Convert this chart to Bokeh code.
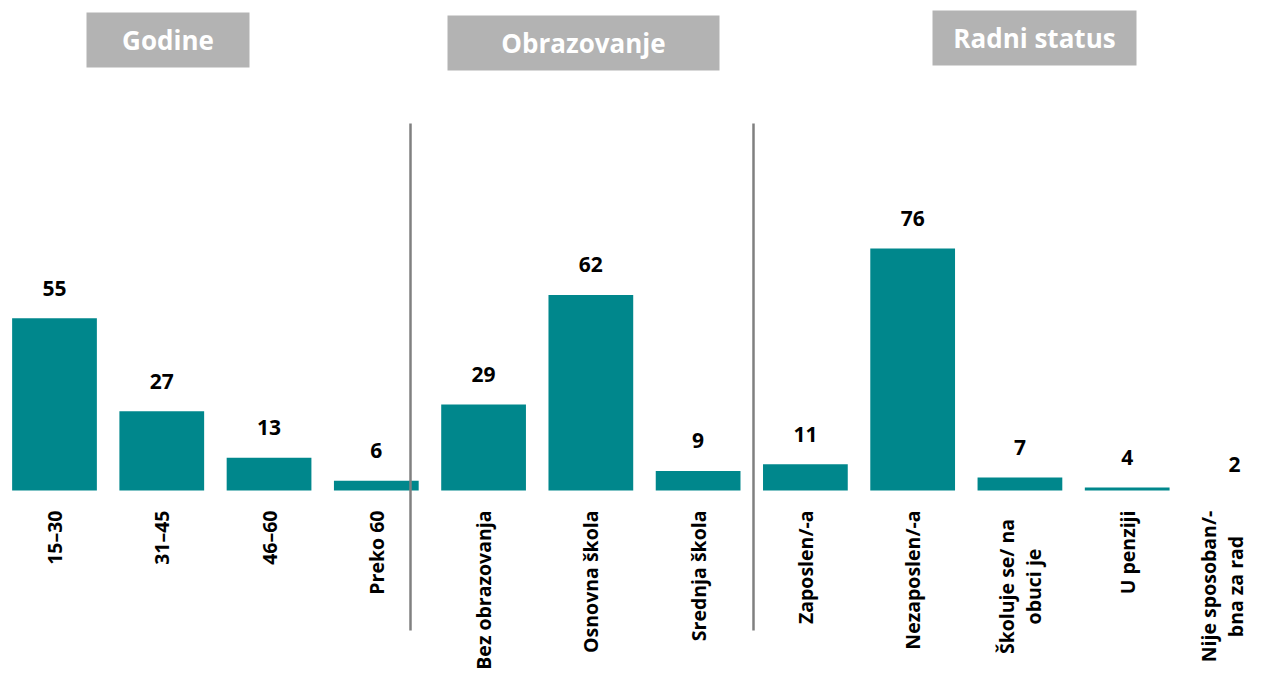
import numpy as np
from bokeh.plotting import figure
from bokeh.models import Range1d, ColumnDataSource
from bokeh.core.properties import value
from bokeh.embed import file_html
from bokeh.resources import INLINE

# ---- data ----
categories = ["15\u201330", "31\u201345", "46\u201360", "Preko 60",
              "Bez obrazovanja", "Osnovna \u0161kola", "Srednja \u0161kola",
              "Zaposlen/-a", "Nezaposlen/-a", "\u0160koluje se/ na\nobuci je",
              "U penziji", "Nije sposoban/-\nbna za rad"]
values = [55, 27, 13, 6, 29, 62, 9, 11, 76, 7, 4, 2]
groups = ["Godine", "Obrazovanje", "Radni status"]

# ---- layout helpers (picture pixel -> data) ----
W, H = 1249, 674
X0, DX = 54.0, 107.27          # picture x of first bar centre, spacing
BASE_PY, BASE_V, PPU = 490.0, 3.1, 3.32

def X(px):
    return (px - X0) / DX

def Y(py):
    return BASE_V + (BASE_PY - py) / PPU

FONT = "Open Sans"
BAR = "#00878c"
GREY = "#b3b3b3"

p = figure(width=W, height=H, output_backend="svg", toolbar_location=None,
           x_range=Range1d(X(0), X(W)), y_range=Range1d(Y(H), Y(0)),
           min_border=0, min_border_left=0, min_border_right=0,
           min_border_top=0, min_border_bottom=0)
p.axis.visible = False
p.grid.visible = False
p.outline_line_color = None
p.background_fill_color = "white"
p.border_fill_color = "white"

idx = np.arange(len(values))
vals = np.array(values, dtype=float)
src = ColumnDataSource(dict(x=idx, top=np.maximum(vals, BASE_V), v=vals,
                            lab=[str(v) for v in values]))

p.vbar(x="x", top="top", bottom=BASE_V, width=0.79, source=src,
       fill_color=BAR, line_color=None)

p.text(x="x", y="v", text="lab", source=src, text_align="center",
       text_baseline="middle", y_offset=-30, text_font=value(FONT),
       text_font_style="bold", text_font_size="21px", text_color="black")

single = [i for i, c in enumerate(categories) if "\n" not in c]
multi = [i for i, c in enumerate(categories) if "\n" in c]
src1 = ColumnDataSource(dict(x=single, cat=[categories[i] for i in single]))
# keep the last (rightmost) wrapped label inside the canvas
src2 = ColumnDataSource(dict(x=multi, cat=[categories[i] for i in multi],
                             dx=[0 if i < len(categories) - 1 else -12 for i in multi]))

lab_kw = dict(angle=np.pi / 2, text_baseline="middle", text_font=value(FONT),
              text_font_style="bold", text_font_size="19.5px",
              text_color="black", text_line_height=1.0)
p.text(x="x", y=Y(510), text="cat", source=src1, text_align="right", **lab_kw)
p.text(x="x", y=Y(510 + 76), text="cat", source=src2, text_align="center",
       x_offset="dx", **lab_kw)

# separators
for sx in (410, 753):
    p.segment(x0=X(sx), y0=Y(123), x1=X(sx), y1=Y(630),
              line_color="#808080", line_width=2.5)

# group headers
boxes = [(86, 249, 12, 67), (447, 719, 15, 70), (932, 1136, 10, 65)]
for g, (l, r, t, b) in zip(groups, boxes):
    p.quad(left=X(l), right=X(r), top=Y(t), bottom=Y(b),
           fill_color=GREY, line_color=None)
    p.text(x=[X((l + r) / 2)], y=[Y((t + b) / 2)], text=[g],
           text_align="center", text_baseline="middle",
           text_font=value(FONT), text_font_style="bold",
           text_font_size="26px", text_color="white")

open("out.html", "w").write(file_html(p, INLINE))
